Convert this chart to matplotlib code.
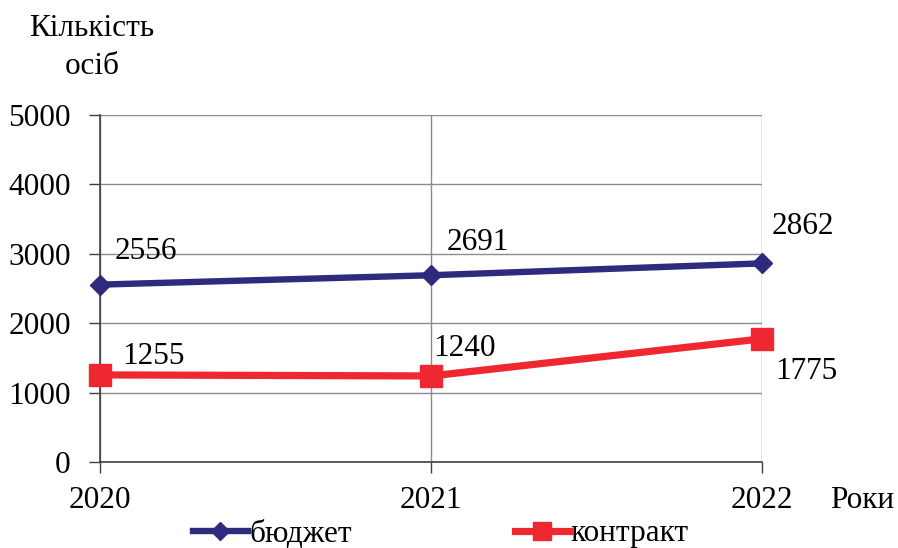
import matplotlib
matplotlib.use('Agg')

import matplotlib.pyplot as plt

# data
years = [2020, 2021, 2022]
budget = [2556, 2691, 2862]
contract = [1255, 1240, 1775]
y_ticks = [0, 1000, 2000, 3000, 4000, 5000]

# label offsets in pixels (dx, dy) per point
budget_offsets = [(15, 33), (16, 33), (10, 37)]
contract_offsets = [(22, 18), (2, 27), (13, -33)]

BLUE = '#2e2a7e'
RED = '#ee2730'

plt.rcParams['font.family'] = ['Liberation Serif', 'DejaVu Serif']
FS = 22.5

fig = plt.figure(figsize=(8.98, 5.48), dpi=100)
ax = fig.add_axes([100 / 898, 1 - 462 / 548, 662 / 898, 347 / 548])

ax.plot(years, budget, color=BLUE, lw=4.6, marker='D', ms=10.5,
        label='бюджет', zorder=3, clip_on=False)
ax.plot(years, contract, color=RED, lw=5.2, marker='s', ms=15.5,
        label='контракт', zorder=3, clip_on=False)

for x, v, (dx, dy) in zip(years, budget, budget_offsets):
    ax.annotate(str(v), (x, v), xytext=(dx, dy), textcoords='offset pixels',
                fontsize=FS, ha='left', va='center')
for x, v, (dx, dy) in zip(years, contract, contract_offsets):
    ax.annotate(str(v), (x, v), xytext=(dx, dy), textcoords='offset pixels',
                fontsize=FS, ha='left', va='center')

ax.set_xlim(2020, 2022)
ax.set_ylim(0, 5000)
ax.set_xticks(years)
ax.set_xticklabels([str(y) for y in years])
ax.set_yticks(y_ticks)
ax.tick_params(axis='both', labelsize=FS, direction='out', length=8,
               width=1, color='#404040')
ax.tick_params(axis='x', pad=9)
ax.tick_params(axis='y', pad=13)

ax.grid(True, color='#8c8c8c', lw=1)
ax.set_axisbelow(True)
for s in ['top', 'right']:
    ax.spines[s].set_visible(False)
ax.spines['left'].set_color('#404040')
ax.spines['bottom'].set_color('#404040')
ax.spines['left'].set_linewidth(1.2)
ax.spines['bottom'].set_linewidth(1.2)

fig.text(92 / 898, 1 - 28 / 548, 'Кількість', fontsize=FS, ha='center', va='center')
fig.text(92 / 898, 1 - 67 / 548, 'осіб', fontsize=FS, ha='center', va='center')
fig.text(862 / 898, 1 - 500 / 548, 'Роки', fontsize=FS, ha='center', va='center')

leg = fig.legend(loc='center', bbox_to_anchor=(441 / 898, 1 - 534 / 548), ncol=2,
                 frameon=False, fontsize=FS, handlelength=1.75, handletextpad=0.05,
                 columnspacing=5.2, borderpad=0, markerscale=0.85)

plt.savefig('out.png', dpi=100)
plt.close()
